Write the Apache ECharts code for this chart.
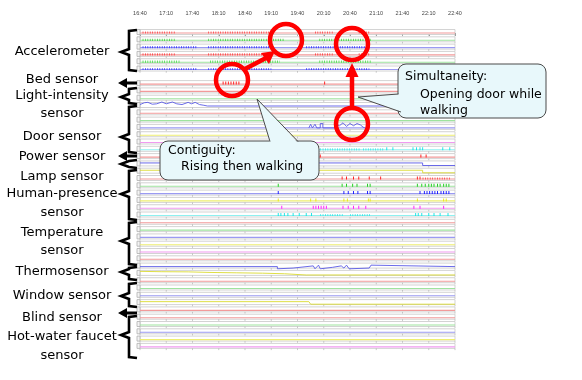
<!DOCTYPE html>
<html><head><meta charset="utf-8">
<script src="https://cdn.jsdelivr.net/npm/echarts@6/dist/echarts.min.js"></script>
<style>html,body{margin:0;padding:0;background:#fff}#c{width:582px;height:380px}</style>
</head><body><div id="c"></div>
<script>
// ---- data ----
const tickLabels = ['16:40','17:10','17:40','18:10','18:40','19:10','19:40','20:10','20:40','21:10','21:40','22:10','22:40'];
const tickMinutes = [0,30,60,90,120,150,180,210,240,270,300,330,360];
// colour key of each sensor channel row, top to bottom
const rowColors = ['r','g','b','r','g','b', 'r', 'r','g','b', 'r','g','b','y','m', 'c','r', 'b','y',
  'r','g','b','y','m','c', 'r','g','b','y','m', 'r','b','y', 'r','g','b','y', 'r', 'r','g','b','y','m'];
const groupLabels = ['Accelerometer','Bed sensor','Light-intensity\nsensor','Door sensor','Power sensor','Lamp sensor',
  'Human-presence\nsensor','Temperature\nsensor','Thermosensor','Window sensor','Blind sensor','Hot-water faucet\nsensor'];
// accelerometer activity periods (minutes after 16:40), per accelerometer row
const accelActive = [
  [[3,40],[78,150],[200,222],[250,263]],
  [[3,40],[78,165],[205,265]],
  [[3,65],[78,150],[190,260]],
  [[3,40],[78,150],[200,222],[250,263]],
  [[3,45],[80,160],[205,265]],
  [[3,65],[78,150],[190,262]]
];
// dense bursts on other rows: [row, start, end]
const bursts = [[15,206,251],[15,255,278],[19,323,354],[24,206,232],[24,240,263]];
// single firings per row (minutes after 16:40)
const events = {
  6: [95,98,101,104,107,110,113,211],
  15: [282,289,312,316,320,323,346,354],
  16: [206,321,327],
  19: [231,236,244,250,262,275,317,320],
  20: [158,231,236,243,248,260,263,317,322,326,330,333,336,340,343,347,350,353],
  21: [158,233,238,244,249,260,263,320,325,328,331,334,337,340,344,347,350,353],
  22: [158,195,201,233,237,261,263,317,347,350],
  23: [162,198,201,204,207,210,213,232,238,244,250,258,313,320,347],
  24: [158,161,165,169,175,182,190,196,315,318,322,330,336,343,352]
};
// analogue traces: [minute, level] (level in row units, up is positive)
const traces = {
  9: [[0,0.2],[5,0.45],[9,0.5],[14,0.25],[19,0.3],[25,0.55],[30,0.3],[37,0.55],[42,0.3],[48,0.2],[55,0.5],[59,0.3],[63,0.5],[68,0.2],[73,0.1],[77,0],[360,0]],
  12: [[193,0],[195,0.5],[197,0],[200,0.5],[202,0],[206,0],[206,0.6],[209,0.6],[209,0],[222,0],[224,0.5],[228,0.3],[232,0.7],[236,0.2],[240,0.6],[244,0.3],[248,0.6],[252,0.4],[255,0.1],[257,0]],
  17: [[0,0.2],[323,0.2],[323,-0.15],[360,-0.15]],
  18: [[0,0.2],[323,0.2],[323,-0.15],[360,-0.15]],
  31: [[0,0],[157,0],[157,-0.3],[175,-0.2],[198,0.1],[200,-0.3],[204,0.2],[206,-0.3],[220,-0.1],[230,0.1],[233,-0.2],[236,0.2],[239,-0.3],[262,-0.2],[264,0.2],[266,0],[360,0]],
  32: [[0,0.35],[25,0.3],[55,0.28],[80,0.2],[110,0.15],[140,0.1],[165,0.02],[190,-0.15],[360,-0.15]],
  36: [[0,0.2],[193,0.2],[195,-0.15],[360,-0.15]]
};

// ---- styles ----
const pale = {r:'#f29a9a', g:'#9ee39e', b:'#9a9af2', y:'#eeee70', m:'#f09af0', c:'#8ef0f0'};
const vivid = {r:'#ff0000', g:'#00c800', b:'#0000ff', y:'#e6e600', m:'#ff00ff', c:'#00e0e0'};
const mid = {r:'#e06060', g:'#50c850', b:'#5a5ae6', y:'#dada30', m:'#e050e0', c:'#30d8d8'};
const X0 = tickMinutes[0], X1 = tickMinutes[tickMinutes.length-1];
const slotOf = r => r < 6 ? r : r + 1;
const fullTrace = r => traces[r] && traces[r][0][0] === X0 && traces[r][traces[r].length-1][0] === X1;

const series = [];
series.push({
  type:'custom', silent:true, z:1,
  data: rowColors.map((c,i)=>[i]),
  renderItem(params, api){
    const r = api.value(0), s = slotOf(r);
    const a = api.coord([X0, s]), b = api.coord([X1, s]);
    const ch = [
      {type:'rect', shape:{x:a[0], y:a[1]-3.5, width:b[0]-a[0], height:5}, style:{fill:'#fff', stroke:'#c8c8c8', lineWidth:0.8}},
      {type:'rect', shape:{x:a[0]-3, y:a[1]-3.5, width:3, height:5}, style:{fill:'#f4f4f4', stroke:'#b0b0b0', lineWidth:0.8}}
    ];
    if (!fullTrace(r)) ch.push({type:'line', shape:{x1:a[0], y1:a[1], x2:b[0], y2:b[1]}, style:{stroke:pale[rowColors[r]], lineWidth:1.1}});
    tickMinutes.forEach(t => { const p = api.coord([t, s]);
      ch.push({type:'line', shape:{x1:p[0], y1:p[1]+1.5, x2:p[0], y2:p[1]+3.2}, style:{stroke:'#b0b0b0', lineWidth:0.7}}); });
    return {type:'group', children: ch};
  }
});
// bursts (accelerometer + others)
const burstData = [];
accelActive.forEach((list, r) => list.forEach(([s0,s1]) => burstData.push([r, s0, s1])));
bursts.forEach(b => burstData.push(b));
series.push({
  type:'custom', silent:true, z:3, data: burstData,
  renderItem(params, api){
    const r = api.value(0), s = slotOf(r);
    const a = api.coord([api.value(1), s]), b = api.coord([api.value(2), s]);
    return {type:'line', shape:{x1:a[0], y1:a[1]-0.5, x2:b[0], y2:b[1]-0.5},
      style:{stroke: vivid[rowColors[r]], lineWidth:2.2, lineDash:[0.8,1.6], opacity:0.7}};
  }
});
Object.keys(traces).forEach(k => { const r = +k, s = slotOf(r);
  series.push({type:'line', silent:true, z:4, showSymbol:false, animation:false,
    data: traces[k].map(([t,o]) => [t, s - o]),
    lineStyle:{color: mid[rowColors[r]], width:0.9}});
});
Object.keys(events).forEach(k => { const r = +k, s = slotOf(r);
  series.push({type:'scatter', silent:true, z:5, symbol:'rect', symbolSize:[1,3], symbolOffset:[0,-1],
    data: events[k].map(t => [t, s]), itemStyle:{color: vivid[rowColors[r]], opacity:0.85}});
});

// ---- annotations (pixel space) ----
const g = [];
const labelPos = [52,80,[96,114],137,157,177,[194,213],[233,251],272,296,318,[337,356]];
groupLabels.forEach((lab, i) => {
  const parts = lab.split('\n'); const ys = Array.isArray(labelPos[i]) ? labelPos[i] : [labelPos[i]];
  parts.forEach((p, j) => g.push({type:'text', x:62, y:ys[j], z:50,
    style:{text:p, font:'13px "DejaVu Sans"', fill:'#000', textAlign:'center', textVerticalAlign:'middle'}}));
});
const braces = [[30,52,71],[88,97,104],[106,137,153],[160,164,168],[170,194,220],[222,241,265],[267,272,280],[283,296,307],[316,335,358]];
braces.forEach(([t,m,b]) => g.push({type:'polyline', z:50,
  shape:{points:[[137,t],[129,t+1],[129,m-3],[121,m],[129,m+3],[129,b-1],[137,b]]},
  style:{stroke:'#000', lineWidth:2.6, fill:null}}));
[83,156,313].forEach(y => g.push({type:'polygon', z:50,
  shape:{points:[[118,y],[127,y-5],[127,y-1.5],[137,y-1.5],[137,y+1.5],[127,y+1.5],[127,y+5]]},
  style:{fill:'#000'}}));
// callout 1
g.push({type:'rect', z:60, shape:{x:160, y:141, width:159, height:39, r:8}, style:{fill:'#e8f8fb', stroke:'#4a4a4a', lineWidth:1}});
g.push({type:'polygon', z:61, shape:{points:[[257,99],[270,143],[298,143]]}, style:{fill:'#e8f8fb'}});
g.push({type:'polyline', z:62, shape:{points:[[270,141.5],[257,99],[298,141.5]]}, style:{stroke:'#4a4a4a', lineWidth:1, fill:null}});
g.push({type:'text', z:63, x:168, y:151, style:{text:'Contiguity:', font:'12.5px "DejaVu Sans"', fill:'#000', textVerticalAlign:'middle'}});
g.push({type:'text', z:63, x:181, y:167, style:{text:'Rising then walking', font:'12.5px "DejaVu Sans"', fill:'#000', textVerticalAlign:'middle'}});
// callout 2
g.push({type:'rect', z:60, shape:{x:398, y:64, width:148, height:54, r:8}, style:{fill:'#e8f8fb', stroke:'#4a4a4a', lineWidth:1}});
g.push({type:'polygon', z:61, shape:{points:[[358,97],[400,94],[402,112]]}, style:{fill:'#e8f8fb'}});
g.push({type:'polyline', z:62, shape:{points:[[398.5,94],[358,97],[401,112]]}, style:{stroke:'#4a4a4a', lineWidth:1, fill:null}});
g.push({type:'text', z:63, x:405, y:77, style:{text:'Simultaneity:', font:'12.5px "DejaVu Sans"', fill:'#000', textVerticalAlign:'middle'}});
g.push({type:'text', z:63, x:420, y:95, style:{text:'Opening door while', font:'12.5px "DejaVu Sans"', fill:'#000', textVerticalAlign:'middle'}});
g.push({type:'text', z:63, x:420, y:111, style:{text:'walking', font:'12.5px "DejaVu Sans"', fill:'#000', textVerticalAlign:'middle'}});
// red circles and arrows
[[286,40],[352,44],[232,80],[352,124]].forEach(([x,y]) => g.push({type:'circle', z:70,
  shape:{cx:x, cy:y, r:16}, style:{fill:null, stroke:'#ff0000', lineWidth:4.5}}));
g.push({type:'line', z:70, shape:{x1:243, y1:70, x2:266, y2:58}, style:{stroke:'#ff0000', lineWidth:4.5}});
g.push({type:'polygon', z:70, shape:{points:[[275,51],[269,64],[261,53]]}, style:{fill:'#ff0000'}});
g.push({type:'line', z:70, shape:{x1:352, y1:108, x2:352, y2:74}, style:{stroke:'#ff0000', lineWidth:4.5}});
g.push({type:'polygon', z:70, shape:{points:[[352,63],[345.5,77],[358.5,77]]}, style:{fill:'#ff0000'}});

const chart = echarts.init(document.getElementById('c'));
chart.setOption({
  animation:false,
  grid:{left:140, right:127, top:22.8, bottom:25.8},
  xAxis:{type:'value', position:'top', min:X0, max:X1, interval:30,
    axisLine:{lineStyle:{color:'#777', width:0.8}},
    axisTick:{inside:true, length:3, lineStyle:{color:'#777', width:0.8}},
    axisLabel:{margin:6, fontSize:5.5, color:'#444', fontFamily:'Liberation Sans',
      formatter: v => tickLabels[tickMinutes.indexOf(v)] || ''},
    splitLine:{show:false}},
  yAxis:{type:'value', inverse:true, min:-1.4, max:44, show:false},
  series,
  graphic: g
});
</script></body></html>
